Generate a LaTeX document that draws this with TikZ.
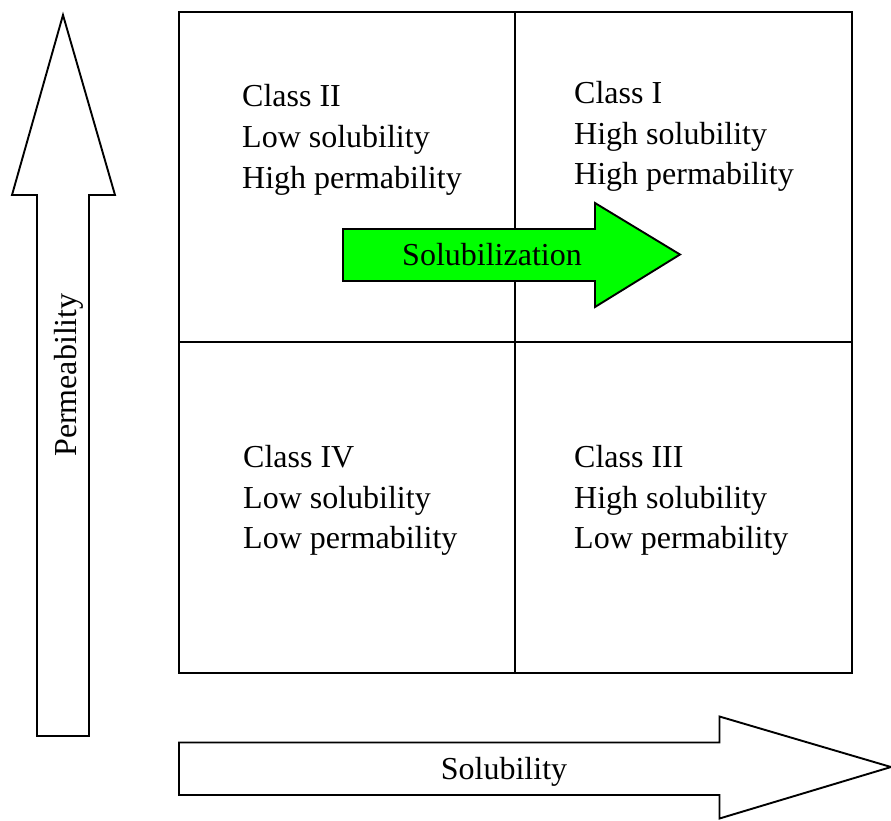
\documentclass[tikz,border=0pt]{standalone}
\usepackage{fontspec}
\setmainfont{Liberation Serif}
\begin{document}
\begin{tikzpicture}[x=1pt,y=-1pt,
  outl/.style={draw=black, line width=1.9pt, line join=miter},
  lbl/.style={font=\fontsize{32}{40}\selectfont, inner sep=0pt, anchor=base west},
  clbl/.style={font=\fontsize{32}{40}\selectfont, inner sep=0pt, anchor=base}]
\useasboundingbox (0,0) rectangle (891,820);
% vertical permeability arrow
\draw[outl, fill=white] (37,736) -- (37,195) -- (12,195) -- (63,15) -- (115,195) -- (89,195) -- (89,736) -- cycle;
\node[font=\fontsize{32}{40}\selectfont, inner sep=0pt, rotate=90, anchor=base] (perm) at (76,375) {Permeability};
% grid
\draw[outl] (179,12) rectangle (852,673);
\coordinate (gt) at (515,12);
\coordinate (gb) at (515,673);
\coordinate (gl) at (179,342);
\coordinate (gr) at (852,342);
\draw[outl] (gt) -- (gb);
\draw[outl] (gl) -- (gr);
% class texts
\node[lbl] (c2a) at (242,106.5) {Class II};
\node[lbl] (c2b) at (242,147.5) {Low solubility};
\node[lbl] (c2c) at (242,188) {High permability};
\node[lbl] (c1a) at (574,103) {Class I};
\node[lbl] (c1b) at (574,144) {High solubility};
\node[lbl] (c1c) at (574,184.5) {High permability};
\node[lbl] (c4a) at (243,467) {Class IV};
\node[lbl] (c4b) at (243,508) {Low solubility};
\node[lbl] (c4c) at (243,548.5) {Low permability};
\node[lbl] (c3a) at (574,467) {Class III};
\node[lbl] (c3b) at (574,508) {High solubility};
\node[lbl] (c3c) at (574,548.5) {Low permability};
% green solubilization arrow
\draw[outl, fill={rgb,255:red,0;green,255;blue,0}] (343,229) -- (595,229) -- (595,203) -- (680,254.5) -- (595,307) -- (595,281) -- (343,281) -- cycle;
\node[clbl] (solz) at (492,265) {Solubilization};
% solubility arrow
\draw[outl, fill=white] (179,742.5) -- (719.5,742.5) -- (719.5,716.5) -- (891,767) -- (719.5,818.5) -- (719.5,795) -- (179,795) -- cycle;
\node[clbl] (solb) at (504,779) {Solubility};
\end{tikzpicture}
\end{document}
